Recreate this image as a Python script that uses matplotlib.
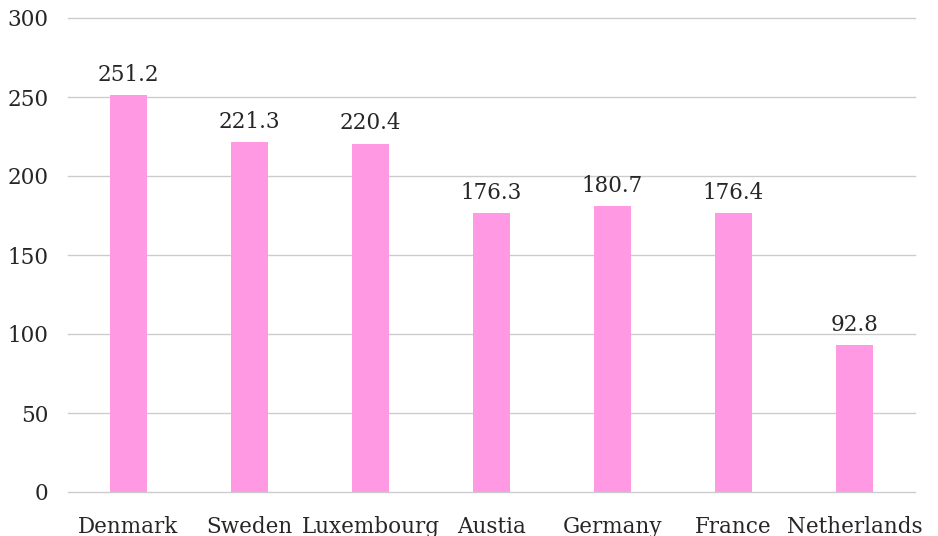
import matplotlib.pyplot as plt

countries = ['Denmark', 'Sweden', 'Luxembourg', 'Austia', 'Germany', 'France', 'Netherlands']
values = [251.2, 221.3, 220.4, 176.3, 180.7, 176.4, 92.8]
yticks = [0, 50, 100, 150, 200, 250, 300]

plt.rcParams['font.family'] = ['DejaVu Serif']
text_color = '#262626'

fig = plt.figure(figsize=(9.38, 5.36), dpi=100)
ax = fig.add_axes([68 / 938, 1 - 492 / 536, 847 / 938, 474 / 536])

bars = ax.bar(range(len(countries)), values, width=0.31, color='#ff99e3', zorder=2)

for bar, v in zip(bars, values):
    ax.text(bar.get_x() + bar.get_width() / 2, v + 6, f'{v}', ha='center', va='bottom',
            fontsize=15.5, color=text_color)

ax.set_ylim(0, 300)
ax.set_xlim(-0.5, len(countries) - 0.5)
ax.set_yticks(yticks)
ax.set_xticks(range(len(countries)))
ax.set_xticklabels(countries)
ax.grid(axis='y', color='#cccccc', linewidth=1, zorder=0)
for line in ax.get_ygridlines():
    line.set_clip_on(False)
ax.tick_params(axis='both', length=0, labelsize=15.5, colors=text_color)
ax.tick_params(axis='y', pad=14)
ax.tick_params(axis='x', pad=17)
for s in ax.spines.values():
    s.set_visible(False)

fig.savefig('out.png', dpi=100)
